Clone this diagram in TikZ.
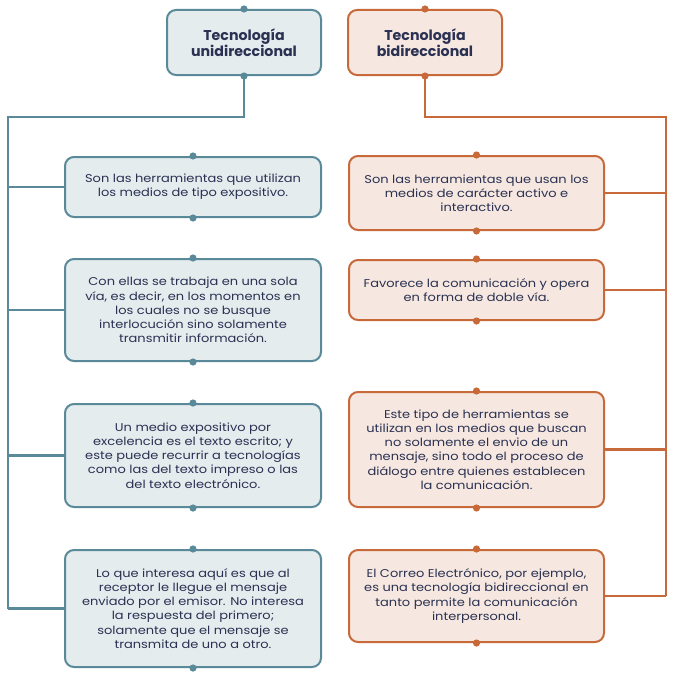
\documentclass[tikz,border=0pt]{standalone}
\usepackage{fontspec}
\setmainfont{Poppins}[FakeStretch=1.15]
\newfontfamily\headfont{Poppins}
\begin{document}
\definecolor{tealline}{HTML}{5A8A99}
\definecolor{tealfill}{HTML}{E4ECEE}
\definecolor{rustline}{HTML}{C8693A}
\definecolor{rustfill}{HTML}{F6E8E0}
\definecolor{inktext}{HTML}{2A3152}
\begin{tikzpicture}[x=1pt,y=-1pt,
  card/.style={rounded corners=9pt, line width=2pt, align=center, inner sep=0pt,
    text=inktext, font=\fontsize{11.3}{14.2}\selectfont},
  leftcard/.style={card, draw=tealline, fill=tealfill, minimum width=256pt},
  rightcard/.style={card, draw=rustline, fill=rustfill, minimum width=255pt},
  headcard/.style={font=\headfont\bfseries\fontsize{14.2}{16}\selectfont, minimum width=154pt, minimum height=65pt},
  tealwire/.style={draw=tealline, line width=2.3pt},
  rustwire/.style={draw=rustline, line width=2.3pt},
  pin/.style={radius=3.6pt}
]
\useasboundingbox (0,0) rectangle (677,677);

% headers
\node[leftcard, headcard] (lh) at (244,42.5) {Tecnología\\unidireccional};
\node[rightcard, headcard] (rh) at (425,42.5) {Tecnología\\bidireccional};

% left column
\node[leftcard, minimum height=60pt] (l1) at (193,187) {Son las herramientas que utilizan\\los medios de tipo expositivo.};
\node[leftcard, minimum height=102pt] (l2) at (193,310) {Con ellas se trabaja en una sola\\vía, es decir, en los momentos en\\los cuales no se busque\\interlocución sino solamente\\transmitir información.};
\node[leftcard, minimum height=103pt] (l3) at (193,455.5) {Un medio expositivo por\\excelencia es el texto escrito; y\\este puede recurrir a tecnologías\\como las del texto impreso o las\\del texto electrónico.};
\node[leftcard, minimum height=117pt] (l4) at (193,608.5) {Lo que interesa aquí es que al\\receptor le llegue el mensaje\\enviado por el emisor. No interesa\\la respuesta del primero;\\solamente que el mensaje se\\transmita de uno a otro.};

% right column
\node[rightcard, minimum height=74pt] (r1) at (476.5,193) {Son las herramientas que usan los\\medios de carácter activo e\\interactivo.};
\node[rightcard, minimum height=60pt] (r2) at (476.5,290) {Favorece la comunicación y opera\\en forma de doble vía.};
\node[rightcard, minimum height=115pt] (r3) at (476.5,449.5) {Este tipo de herramientas se\\utilizan en los medios que buscan\\no solamente el envio de un\\mensaje, sino todo el proceso de\\diálogo entre quienes establecen\\la comunicación.};
\node[rightcard, minimum height=92pt] (r4) at (476.5,596) {El Correo Electrónico, por ejemplo,\\es una tecnología bidireccional en\\tanto permite la comunicación\\interpersonal.};

% buses
\coordinate (lbus) at (8,117);
\coordinate (rbus) at (666,117);
\draw[tealwire] (lh.south) |- (lbus) -- (lbus |- l4.west);
\draw[rustwire] (rh.south) |- (rbus) -- (rbus |- r4.east);
\foreach \n in {l1,l2,l3,l4} \draw[tealwire] (\n.west) -- (\n.west -| lbus);
\foreach \n in {r1,r2,r3,r4} \draw[rustwire] (\n.east) -- (\n.east -| rbus);

% pins
\foreach \n in {lh,l1,l2,l3,l4} {
  \fill[tealline] (\n.north) circle[pin];
  \fill[tealline] (\n.south) circle[pin];
}
\foreach \n in {rh,r1,r2,r3,r4} {
  \fill[rustline] (\n.north) circle[pin];
  \fill[rustline] (\n.south) circle[pin];
}
\end{tikzpicture}
\end{document}
